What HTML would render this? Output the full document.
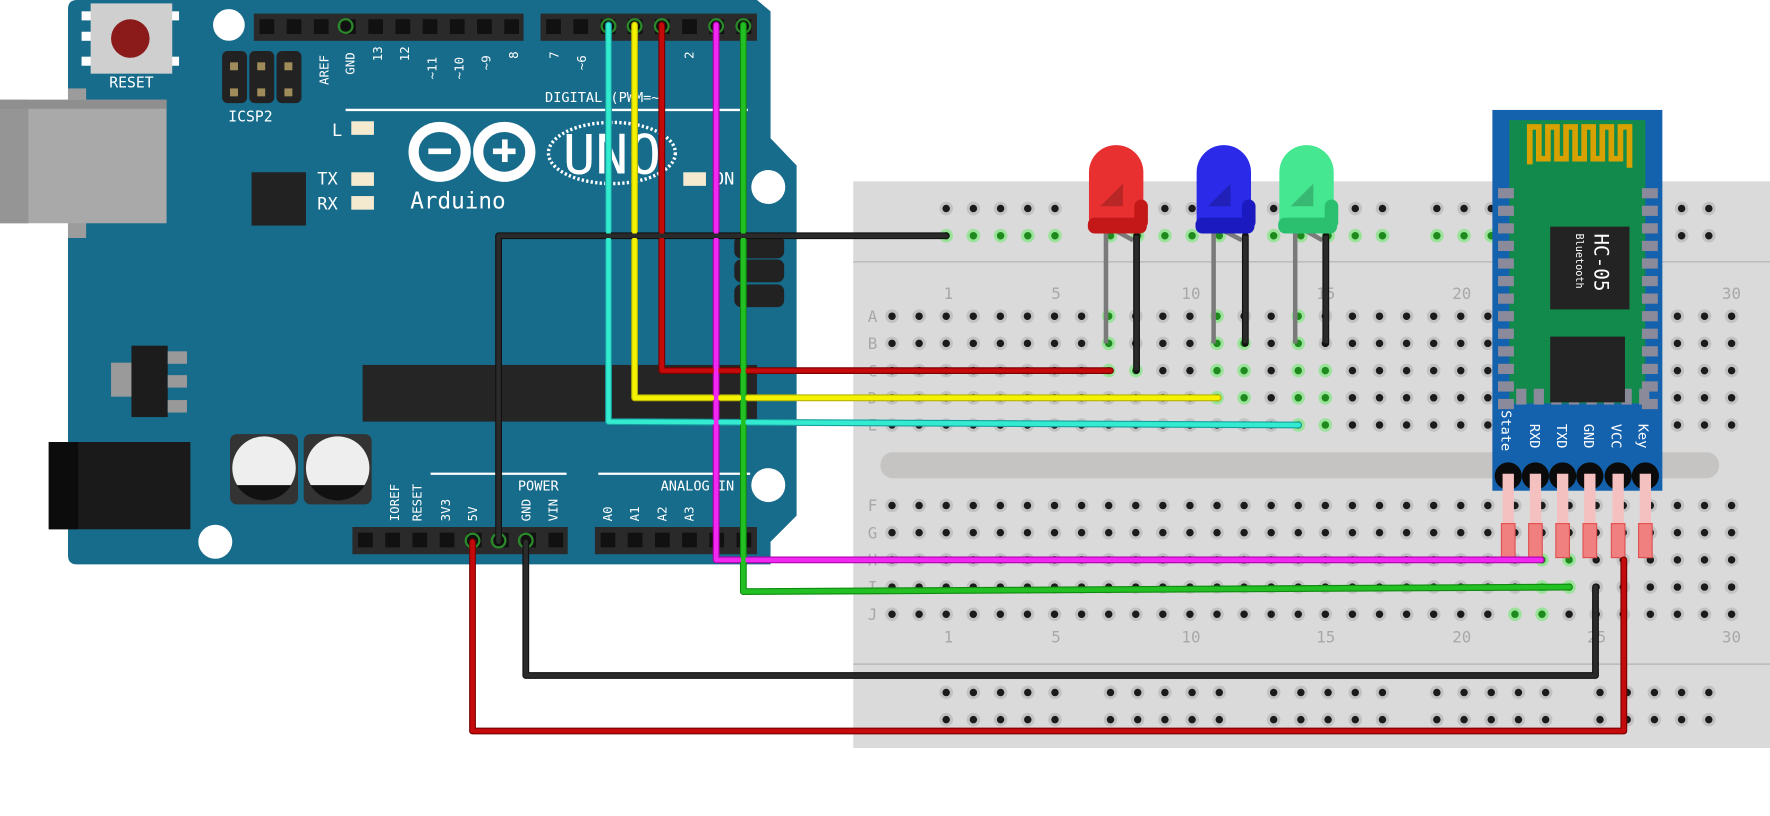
<!DOCTYPE html>
<html><head><meta charset="utf-8"><style>
html,body{margin:0;padding:0;background:#fff;width:1770px;height:816px;overflow:hidden}
svg{display:block}
text{font-family:"DejaVu Sans Mono","Liberation Mono",monospace;}
</style></head><body>
<svg id="s" width="1770" height="816" viewBox="0 0 1562 720" preserveAspectRatio="none" xmlns="http://www.w3.org/2000/svg">
<rect width="1562" height="720" fill="#fff"/>
<!-- breadboard -->
<rect x="753" y="160" width="809" height="500" fill="#dadada"/>
<line x1="753" y1="231" x2="1562" y2="231" stroke="#bdbdbd" stroke-width="1.5"/>
<line x1="753" y1="586" x2="1562" y2="586" stroke="#bdbdbd" stroke-width="1.5"/>
<rect x="777" y="399" width="740" height="23" rx="11" fill="#c6c4c2"/>
<g id="dots"></g>
<g fill="#a8a8a8" font-family="Liberation Sans,sans-serif" font-size="14" text-anchor="middle">
<text x="837" y="264">1</text><text x="932" y="264">5</text><text x="1051" y="264">10</text><text x="1170" y="264">15</text><text x="1290" y="264">20</text><text x="1528" y="264">30</text>
<text x="837" y="567">1</text><text x="932" y="567">5</text><text x="1051" y="567">10</text><text x="1170" y="567">15</text><text x="1290" y="567">20</text><text x="1409" y="567">25</text><text x="1528" y="567">30</text>
<text x="770" y="284">A</text><text x="770" y="308">B</text><text x="770" y="332">C</text><text x="770" y="356">D</text><text x="770" y="380">E</text>
<text x="770" y="451">F</text><text x="770" y="475">G</text><text x="770" y="499">H</text><text x="770" y="523">I</text><text x="770" y="547">J</text>
</g>

<!-- Arduino board -->
<path d="M68,0 H668 L680,10 V122 L703,146 V455 L680,478 V498 H68 Q60,498 60,490 V8 Q60,0 68,0Z" fill="#176b8b"/>
<rect x="60" y="78" width="16" height="132" fill="#9c9c9c"/>
<rect x="0" y="88" width="147" height="109" fill="#a9a9a9"/>
<rect x="0" y="88" width="25" height="109" fill="#959595"/>
<rect x="0" y="88" width="147" height="8" fill="#8f8f8f"/>
<rect x="43" y="390" width="125" height="77" fill="#1a1a1a"/>
<rect x="43" y="390" width="26" height="77" fill="#0c0c0c"/>
<g fill="#fff"><rect x="72" y="10" width="10" height="8"/><rect x="72" y="28" width="10" height="8"/><rect x="72" y="50" width="10" height="8"/><rect x="150" y="10" width="8" height="8"/><rect x="150" y="50" width="8" height="8"/></g>
<rect x="80" y="3" width="72" height="62" fill="#cfcfcf"/>
<circle cx="115" cy="34" r="17" fill="#8b1a1a"/>
<text x="116" y="77" fill="#fff" font-size="13" text-anchor="middle">RESET</text>
<circle cx="202" cy="22" r="14" fill="#fff"/>
<circle cx="678" cy="165" r="15" fill="#fff"/>
<circle cx="678" cy="428" r="15" fill="#fff"/>
<circle cx="190" cy="478" r="15" fill="#fff"/>
<g fill="#222"><rect x="196" y="45" width="22" height="46" rx="5"/><rect x="220" y="45" width="22" height="46" rx="5"/><rect x="244" y="45" width="22" height="46" rx="5"/></g>
<g fill="#a08c5a"><rect x="203" y="55" width="7" height="7"/><rect x="227" y="55" width="7" height="7"/><rect x="251" y="55" width="7" height="7"/><rect x="203" y="78" width="7" height="7"/><rect x="227" y="78" width="7" height="7"/><rect x="251" y="78" width="7" height="7"/></g>
<text x="221" y="107" fill="#fff" font-size="13" text-anchor="middle">ICSP2</text>
<rect x="224" y="12" width="238" height="24" fill="#2a2a2a"/>
<rect x="477" y="12" width="191" height="24" fill="#2a2a2a"/>
<rect x="311" y="465" width="190" height="24" fill="#2a2a2a"/>
<rect x="525" y="465" width="143" height="24" fill="#2a2a2a"/>
<g id="pins" fill="#111"></g>
<g fill="#fff" font-size="11">
<text transform="translate(290,75) rotate(-90)">AREF</text>
<text transform="translate(313,66) rotate(-90)">GND</text>
<text transform="translate(337,54) rotate(-90)">13</text>
<text transform="translate(361,54) rotate(-90)">12</text>
<text transform="translate(385,70) rotate(-90)">~11</text>
<text transform="translate(409,70) rotate(-90)">~10</text>
<text transform="translate(433,62) rotate(-90)">~9</text>
<text transform="translate(457,52) rotate(-90)">8</text>
<text transform="translate(493,52) rotate(-90)">7</text>
<text transform="translate(517,62) rotate(-90)">~6</text>
<text transform="translate(612,52) rotate(-90)">2</text>
<text transform="translate(352,460) rotate(-90)">IOREF</text>
<text transform="translate(372,460) rotate(-90)">RESET</text>
<text transform="translate(397,460) rotate(-90)">3V3</text>
<text transform="translate(421,460) rotate(-90)">5V</text>
<text transform="translate(468,460) rotate(-90)">GND</text>
<text transform="translate(492,460) rotate(-90)">VIN</text>
<text transform="translate(540,460) rotate(-90)">A0</text>
<text transform="translate(564,460) rotate(-90)">A1</text>
<text transform="translate(588,460) rotate(-90)">A2</text>
<text transform="translate(612,460) rotate(-90)">A3</text>
</g>
<g fill="#fff" font-size="12"><text x="481" y="90">DIGITAL (PWM=~)</text><text x="457" y="433">POWER</text><text x="583" y="433">ANALOG IN</text></g>
<g stroke="#fff" stroke-width="2"><line x1="305" y1="97" x2="660" y2="97"/><line x1="380" y1="418" x2="500" y2="418"/><line x1="528" y1="418" x2="662" y2="418"/></g>
<g fill="#fff" font-size="15"><text x="293" y="120">L</text><text x="280" y="163">TX</text><text x="280" y="185">RX</text><text x="630" y="163">ON</text></g>
<g fill="#f4ead0"><rect x="310" y="107" width="20" height="12"/><rect x="310" y="152" width="20" height="12"/><rect x="310" y="173" width="20" height="12"/><rect x="603" y="152" width="20" height="12"/></g>
<rect x="222" y="152" width="48" height="47" fill="#222"/>
<!-- logo -->
<g fill="none" stroke="#fff" stroke-width="9"><ellipse cx="388" cy="134" rx="23" ry="22"/><ellipse cx="445" cy="134" rx="23" ry="22"/></g>
<rect x="378" y="131" width="20" height="5" fill="#fff"/>
<rect x="435" y="131" width="20" height="5" fill="#fff"/><rect x="443" y="123" width="5" height="20" fill="#fff"/>
<text x="362" y="184" fill="#fff" font-size="20">Arduino</text>
<ellipse cx="540" cy="135" rx="56" ry="27" fill="none" stroke="#fff" stroke-width="3" stroke-dasharray="2 2"/>
<text x="540" y="153" fill="#fff" font-size="48" text-anchor="middle" font-family="Liberation Sans,sans-serif">UNO</text>
<g fill="#222"><rect x="648" y="208" width="44" height="20" rx="6"/><rect x="648" y="229" width="44" height="20" rx="6"/><rect x="648" y="251" width="44" height="20" rx="6"/></g>
<rect x="320" y="322" width="348" height="50" fill="#252525"/>
<rect x="98" y="320" width="20" height="30" fill="#9a9a9a"/>
<rect x="116" y="305" width="32" height="63" fill="#1c1c1c"/>
<g fill="#999"><rect x="148" y="310" width="17" height="11"/><rect x="148" y="331" width="17" height="11"/><rect x="148" y="353" width="17" height="11"/></g>
<rect x="203" y="383" width="60" height="62" rx="6" fill="#333"/><rect x="268" y="383" width="60" height="62" rx="6" fill="#333"/>
<circle cx="233" cy="413" r="28" fill="#eee"/><circle cx="298" cy="413" r="28" fill="#eee"/>
<path d="M209,428 A28,28 0 0 0 257,428Z" fill="#111"/><path d="M274,428 A28,28 0 0 0 322,428Z" fill="#111"/>

<!-- LEDs -->
<g id="leds"></g>

<!-- HC-05 -->
<rect x="1317" y="97" width="150" height="336" fill="#1462ae"/>
<rect x="1332" y="106" width="120" height="250" fill="#128a4c"/>
<path d="M1350,145 V112 H1358 V140 H1366 V112 H1374 V140 H1382 V112 H1390 V140 H1398 V112 H1406 V140 H1414 V112 H1422 V140 H1430 V112 H1438 V148" fill="none" stroke="#d9a100" stroke-width="5"/>
<g id="pads" fill="#8a8a9a"></g>
<rect x="1368" y="200" width="70" height="73" fill="#232323"/>
<text transform="translate(1407,206) rotate(90)" fill="#fff" font-size="17">HC-05</text>
<text transform="translate(1391,206) rotate(90)" fill="#fff" font-size="9">Bluetooth</text>
<rect x="1368" y="297" width="66" height="58" fill="#232323"/>
<g fill="#fff" font-size="12">
<text transform="translate(1325,362) rotate(90)">State</text>
<text transform="translate(1350,374) rotate(90)">RXD</text>
<text transform="translate(1374,374) rotate(90)">TXD</text>
<text transform="translate(1398,374) rotate(90)">GND</text>
<text transform="translate(1422,374) rotate(90)">VCC</text>
<text transform="translate(1446,374) rotate(90)">Key</text>
</g>
<g id="hpins"></g>

<!-- wires -->
<g fill="none" stroke-linejoin="round" stroke-linecap="round">
<g stroke-width="6">
<path d="M537,22 V372 L1146,375" stroke="#17a0a0"/>
<path d="M560,22 V351 H1075" stroke="#b5b500"/>
<path d="M584,22 V327 H980" stroke="#7a0000"/>
<path d="M632,22 V494 H1360" stroke="#b000b0"/>
<path d="M656,22 V522 L1385,518" stroke="#108a10"/>
<path d="M835,208 H440 V478" stroke="#111"/>
<path d="M464,478 V596 H1408 V518" stroke="#111"/>
<path d="M417,478 V645 H1433 V494" stroke="#7a0000"/>
</g>
<g stroke-width="4">
<path d="M537,22 V372 L1146,375" stroke="#33ecd0"/>
<path d="M560,22 V351 H1075" stroke="#f5f200"/>
<path d="M584,22 V327 H980" stroke="#c40a0a"/>
<path d="M632,22 V494 H1360" stroke="#f028f0"/>
<path d="M656,22 V522 L1385,518" stroke="#22c022"/>
<path d="M835,208 H440 V478" stroke="#2a2a2a"/>
<path d="M464,478 V596 H1408 V518" stroke="#2a2a2a"/>
<path d="M417,478 V645 H1433 V494" stroke="#c40a0a"/>
</g>
</g>
</svg>
<script>
var NS="http://www.w3.org/2000/svg";
function el(p,t,a){var e=document.createElementNS(NS,t);for(var k in a)e.setAttribute(k,a[k]);p.appendChild(e);return e;}
var D=document.getElementById("dots");
function dot(x,y,g){el(D,"circle",{cx:x,cy:y,r:6,fill:g?"#9be39b":"#c2c2c2"});el(D,"circle",{cx:x,cy:y,r:3.3,fill:g?"#1e8a1e":"#1b1b1b"});}
var cx=function(n){return 835+(n-1)*23.9;};
var main=[279,303,327,351,375,446,470,494,518,542];
var green={"7,0":1,"7,1":1,"7,2":1,"8,2":1,"11,0":1,"11,1":1,"11,2":1,"11,3":1,"12,1":1,"12,2":1,"12,3":1,"14,0":1,"14,1":1,"14,2":1,"14,3":1,"14,4":1,"15,2":1,"15,3":1,"15,4":1,"22,9":1,"23,9":1,"23,7":1,"24,7":1,"23,8":1,"24,8":1};
for(var n=-2;n<=30;n++){for(var r=0;r<10;r++){var x=cx(n);if(x<780)continue;dot(x,main[r],green[n+","+r]);}}
var gs=[835,980,1124,1268,1412];
gs.forEach(function(s,gi){for(var i=0;i<5;i++){var x=s+i*24;dot(x,184,0);dot(x,208,gi<4);dot(x,611,0);dot(x,635,0);}});
var P=document.getElementById("pins");
for(var i=0;i<10;i++){el(P,"rect",{x:229+i*24,y:17,width:13,height:13});}
for(var i=0;i<8;i++){el(P,"rect",{x:482+i*24,y:17,width:13,height:13});}
for(var i=0;i<8;i++){el(P,"rect",{x:316+i*24,y:470,width:13,height:13});}
for(var i=0;i<6;i++){el(P,"rect",{x:530+i*24,y:470,width:13,height:13});}
[305,537,560,584,632,656].forEach(function(x){el(P,"circle",{cx:x,cy:23,r:6,fill:"none",stroke:"#2a8a2a","stroke-width":2});});
[417,440,464].forEach(function(x){el(P,"circle",{cx:x,cy:477,r:6,fill:"none",stroke:"#2a8a2a","stroke-width":2});});
var L=document.getElementById("leds");
[[985,"#e83030","#c41818",976,1003,303,327],[1080,"#2a2ae8","#1a1ac0",1071,1099,303,303],[1153,"#45e890","#2ac070",1143,1170,303,303]].forEach(function(a){
 var c=a[0];
 el(L,"line",{x1:a[3],y1:200,x2:a[3],y2:a[5],stroke:"#7a7a7a","stroke-width":4});
 el(L,"path",{d:"M"+(c-7)+",200 L"+(a[4]-3)+",212",stroke:"#7a7a7a","stroke-width":4,fill:"none"});
 el(L,"line",{x1:a[4],y1:208,x2:a[4],y2:a[6],stroke:"#111","stroke-width":6,"stroke-linecap":"round"});
 el(L,"line",{x1:a[4],y1:208,x2:a[4],y2:a[6],stroke:"#2a2a2a","stroke-width":4});
 el(L,"path",{d:"M"+(c-24)+",202 V152 A24,24 0 0 1 "+(c+24)+",152 V202 Z",fill:a[1]});
 el(L,"rect",{x:c-25,y:192,width:52,height:14,rx:6,fill:a[2]});
 el(L,"rect",{x:c+16,y:176,width:12,height:26,rx:6,fill:a[2]});
 el(L,"path",{d:"M"+(c-14)+",182 L"+(c+6)+",162 V182 Z",fill:"#000",opacity:.2});
});
var H=document.getElementById("pads");
for(var i=0;i<13;i++){el(H,"rect",{x:1322,y:166+i*15.5,width:14,height:9});el(H,"rect",{x:1449,y:166+i*15.5,width:14,height:9});}
for(var i=0;i<8;i++){el(H,"rect",{x:1338+i*15.5,y:343,width:9,height:14});}
var HP=document.getElementById("hpins");
[1331,1355,1379,1403,1428,1452].forEach(function(x){
 el(HP,"circle",{cx:x,cy:420,r:12,fill:"#0b0b0b"});
 el(HP,"rect",{x:x-5,y:418,width:10,height:72,fill:"#f5c0c0"});
 el(HP,"rect",{x:x-6,y:462,width:12,height:30,fill:"#f08080",stroke:"#e05050","stroke-width":1});
});
</script>
</body></html>
